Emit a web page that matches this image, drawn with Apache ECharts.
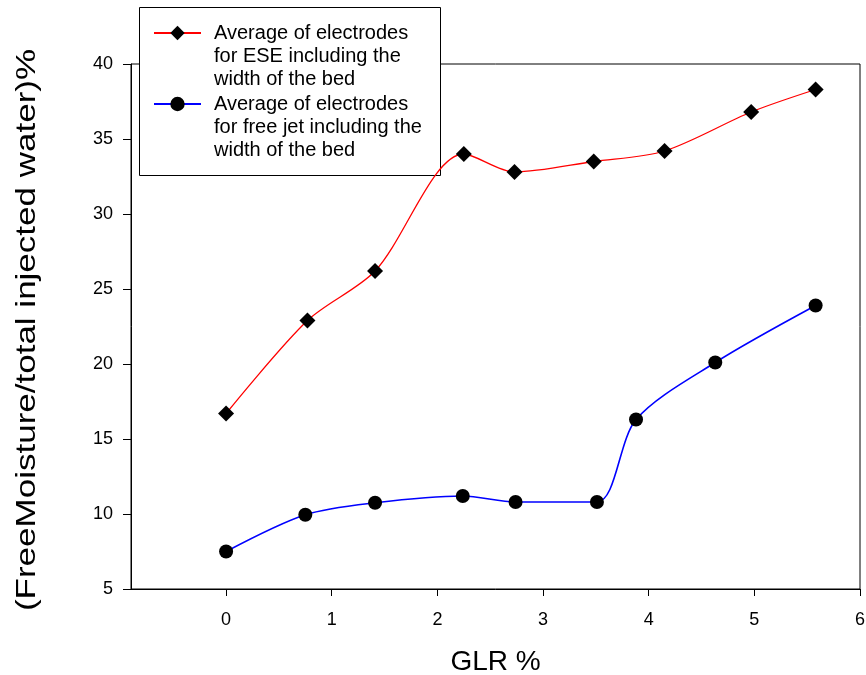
<!DOCTYPE html>
<html>
<head>
<meta charset="utf-8">
<script src="https://cdn.jsdelivr.net/npm/echarts@6/dist/echarts.min.js"></script>
<style>
  html, body { margin: 0; padding: 0; background: #fff; }
  #chart { width: 866px; height: 675px; }
</style>
</head>
<body>
<div id="chart"></div>
<script>
// GLR (%) and free moisture share for the electrode-style spray (ESE)
const glrESE = [0, 0.77, 1.41, 2.25, 2.73, 3.48, 4.15, 4.97, 5.58];
const moistureESE = [16.7, 22.9, 26.2, 34.0, 32.8, 33.5, 34.2, 36.8, 38.3];

// GLR (%) and free moisture share for the free jet
const glrFreeJet = [0, 0.75, 1.41, 2.24, 2.74, 3.51, 3.88, 4.63, 5.58];
const moistureFreeJet = [7.5, 9.95, 10.75, 11.2, 10.8, 10.8, 16.3, 20.1, 23.9];

// Axis ticks
const xTicks = [0, 1, 2, 3, 4, 5, 6];

const seriesNames = [
  'Average of electrodes\nfor ESE including the\nwidth of the bed',
  'Average of electrodes\nfor free jet including the\nwidth of the bed'
];
const xTitle = 'GLR %';
const yTitle = '(FreeMoisture/total injected water)%';

const FONT = '"Liberation Sans", Arial, Helvetica, sans-serif';

function pairs(xs, ys) {
  return xs.map((x, i) => [x, ys[i]]);
}

const chart = echarts.init(document.getElementById('chart'), null, { renderer: 'canvas' });

chart.setOption({
  animation: false,
  backgroundColor: '#fff',
  textStyle: { fontFamily: FONT, color: '#000' },
  grid: {
    left: 131, right: 6, top: 64, bottom: 86,
    outerBoundsMode: 'none',
    containLabel: false,
    show: true, borderColor: '#000', borderWidth: 1,
    backgroundColor: 'transparent'
  },
  xAxis: {
    type: 'value',
    min: -0.9, max: 6,
    name: xTitle,
    nameLocation: 'middle',
    nameGap: 59,
    nameTextStyle: { fontSize: 28, color: '#000', fontFamily: FONT },
    axisLine: { show: true, onZero: false, lineStyle: { color: '#000', width: 1 } },
    axisTick: { show: true, customValues: xTicks, length: 7, lineStyle: { color: '#000' } },
    axisLabel: { customValues: xTicks, fontSize: 18, color: '#000', margin: 22, fontFamily: FONT },
    splitLine: { show: false }
  },
  yAxis: {
    type: 'value',
    min: 5, max: 40, interval: 5,
    axisLine: { show: true, onZero: false, lineStyle: { color: '#000', width: 1 } },
    axisTick: { show: true, length: 8, lineStyle: { color: '#000' } },
    axisLabel: { fontSize: 18, color: '#000', margin: 18, fontFamily: FONT },
    splitLine: { show: false }
  },
  legend: {
    orient: 'vertical',
    left: 153,
    top: -24.5,
    padding: 0,
    itemWidth: 47,
    itemHeight: 18,
    itemGap: -44,
    selectedMode: false,
    data: seriesNames,
    // two blank lines put the first text line level with the legend symbol
    formatter: name => '\n\n' + name,
    textStyle: {
      fontSize: 20, lineHeight: 23, color: '#000', fontFamily: FONT,
      padding: [0, 0, 0, 8]
    }
  },
  graphic: [
    {
      type: 'rect',
      z: 3,
      shape: { x: 139.5, y: 7.5, width: 301, height: 168 },
      style: { fill: '#fff', stroke: '#000', lineWidth: 1 }
    },
    {
      type: 'text',
      z: 3,
      x: 27, y: 330,
      rotation: Math.PI / 2,
      scaleX: 1.25,
      style: {
        text: yTitle,
        font: '28px ' + FONT,
        fill: '#000',
        align: 'center',
        verticalAlign: 'middle'
      }
    }
  ],
  series: [
    {
      name: seriesNames[0],
      type: 'line',
      smooth: 0.3,
      data: pairs(glrESE, moistureESE),
      symbol: 'diamond',
      symbolSize: 16,
      itemStyle: { color: '#000' },
      lineStyle: { color: '#ff0000', width: 1.3 }
    },
    {
      name: seriesNames[1],
      type: 'line',
      smooth: 0.3,
      data: pairs(glrFreeJet, moistureFreeJet),
      symbol: 'circle',
      symbolSize: 14,
      itemStyle: { color: '#000' },
      lineStyle: { color: '#0000ff', width: 1.6 }
    }
  ]
});
</script>
</body>
</html>
